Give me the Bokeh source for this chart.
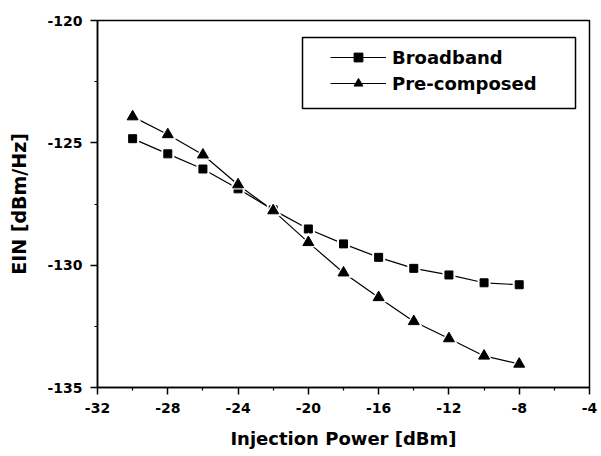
from bokeh.plotting import figure
from bokeh.models import FixedTicker, Legend, LegendItem, BoxAnnotation
from bokeh.embed import file_html
from bokeh.resources import INLINE

# Injection power sweep (dBm) and measured equivalent input noise (dBm/Hz)
power_dbm = [-30, -28, -26, -24, -22, -20, -18, -16, -14, -12, -10, -8]
broadband_ein = [-124.83, -125.45, -126.07, -126.88, -127.74, -128.52,
                 -129.13, -129.68, -130.13, -130.40, -130.72, -130.80]
precomposed_ein = [-123.93, -124.66, -125.49, -126.71, -127.77, -129.07,
                   -130.31, -131.32, -132.30, -133.00, -133.71, -134.04]

series_labels = ["Broadband", "Pre-composed"]

x_ticks = [-32, -28, -24, -20, -16, -12, -8, -4]
x_tick_labels = ["-32", "-28", "-24", "-20", "-16", "-12", "-8", "-4"]
y_ticks = [-135, -130, -125, -120]
y_tick_labels = ["-135", "-130", "-125", "-120"]

FONT = "DejaVu Sans"

p = figure(width=601, height=456,
           x_range=(-32, -4), y_range=(-135, -120),
           output_backend="svg", toolbar_location=None,
           min_border_left=97, min_border_right=12,
           min_border_top=20, min_border_bottom=69)

p.grid.visible = False
p.background_fill_color = "white"
p.border_fill_color = "white"
p.outline_line_color = "black"
p.outline_line_width = 1.5
p.outline_line_alpha = 1.0

p.xaxis.ticker = FixedTicker(
    ticks=x_ticks,
    minor_ticks=[(a + b) / 2 for a, b in zip(x_ticks[:-1], x_ticks[1:])])
p.yaxis.ticker = FixedTicker(
    ticks=y_ticks,
    minor_ticks=[(a + b) / 2 for a, b in zip(y_ticks[:-1], y_ticks[1:])])
p.xaxis.major_label_overrides = dict(zip(x_ticks, x_tick_labels))
p.yaxis.major_label_overrides = dict(zip(y_ticks, y_tick_labels))

for ax in (p.xaxis, p.yaxis):
    ax.axis_line_color = "black"
    ax.axis_line_width = 1.5
    ax.major_tick_line_color = "black"
    ax.major_tick_line_width = 1.5
    ax.minor_tick_line_color = "black"
    ax.minor_tick_line_width = 1.2
    ax.major_tick_out = 7
    ax.major_tick_in = 0
    ax.minor_tick_out = 3
    ax.minor_tick_in = 0
    ax.major_label_text_font = FONT
    ax.major_label_text_font_style = "bold"
    ax.major_label_text_font_size = "14px"
    ax.major_label_text_color = "black"
    ax.major_label_standoff = 8
    ax.axis_label_text_font = FONT
    ax.axis_label_text_font_style = "bold"
    ax.axis_label_text_color = "black"

p.xaxis.axis_label = "Injection Power [dBm]"
p.xaxis.axis_label_text_font_size = "18px"
p.xaxis.axis_label_standoff = 12
p.yaxis.axis_label = "EIN [dBm/Hz]"
p.yaxis.axis_label_text_font_size = "19px"
p.yaxis.axis_label_standoff = 14

# connecting lines
bb_line = p.line(power_dbm, broadband_ein, line_color="black", line_width=1.2)
pc_line = p.line(power_dbm, precomposed_ein, line_color="black", line_width=1.2)

# white halos leave a small gap in the line around each symbol
bb_gap = p.scatter(power_dbm, broadband_ein, marker="square", size=13,
                   fill_color="white", line_color=None)
bb_mark = p.scatter(power_dbm, broadband_ein, marker="square", size=8,
                    fill_color="black", line_color="black")
pc_gap = p.scatter(power_dbm, precomposed_ein, marker="triangle", size=17,
                   fill_color="white", line_color=None)
pc_mark = p.scatter(power_dbm, precomposed_ein, marker="triangle", size=11,
                    fill_color="black", line_color="black")

legend = Legend(
    items=[LegendItem(label=series_labels[0], renderers=[bb_line, bb_gap, bb_mark]),
           LegendItem(label=series_labels[1], renderers=[pc_line, pc_gap, pc_mark])],
    location=(224, 282),
    glyph_width=56, glyph_height=22, label_height=26,
    label_standoff=6, padding=9, spacing=0, margin=0,
    border_line_alpha=0, background_fill_alpha=0,
    label_text_font=FONT, label_text_font_style="bold",
    label_text_font_size="18px", label_text_color="black")
p.add_layout(legend)

legend_frame = BoxAnnotation(left=205, right=478, bottom=279, top=350,
                             left_units="screen", right_units="screen",
                             bottom_units="screen", top_units="screen",
                             fill_color=None, line_color="black",
                             line_alpha=1.0, line_width=1.5)
p.add_layout(legend_frame)

open("out.html", "w").write(file_html(p, INLINE))
